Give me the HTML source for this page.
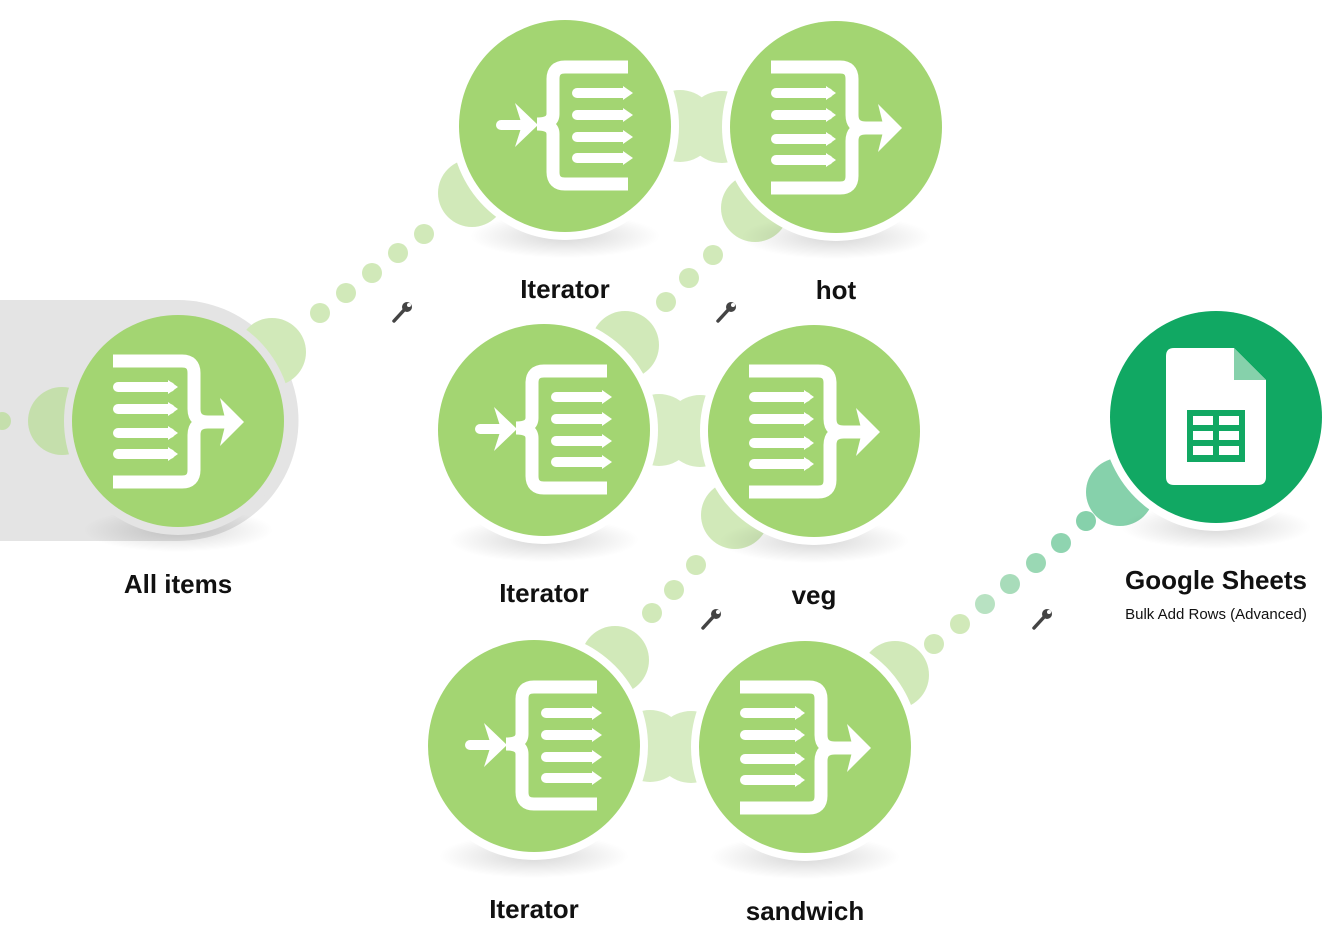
<!DOCTYPE html>
<html><head><meta charset="utf-8"><style>
html,body{margin:0;padding:0;background:#fff;width:1324px;height:950px;overflow:hidden}
svg{display:block}
text{font-family:"Liberation Sans",sans-serif;font-weight:bold;fill:#111;text-anchor:middle}
</style></head><body>
<svg width="1324" height="950" viewBox="0 0 1324 950" xmlns="http://www.w3.org/2000/svg">
<defs>
<radialGradient id="sh" cx="50%" cy="50%" r="50%">
<stop offset="0" stop-color="#000" stop-opacity="0.16"/><stop offset="1" stop-color="#000" stop-opacity="0"/>
</radialGradient>
<g id="agg" fill="none" stroke="#fff">
<path d="M-65 -60 H4 Q16 -60 16 -48 V-12 Q16 1 30 1 H52 M-65 61 H4 Q16 61 16 49 V14 Q16 1 30 1" stroke-width="13"/>
<path d="M-60 -34 H-8 M-60 -12 H-8 M-60 12 H-8 M-60 33 H-8" stroke-width="10" stroke-linecap="round"/>
<path d="M-10 -41 L0 -34 L-10 -27 Z M-10 -19 L0 -12 L-10 -5 Z M-10 5 L0 12 L-10 19 Z M-10 26 L0 33 L-10 40 Z" fill="#fff" stroke="none"/>
<path d="M42 -23 L66 1 L42 25 L48 1 Z" fill="#fff" stroke="none"/>
</g>
<g id="itr" fill="none" stroke="#fff">
<path d="M63 -59 H0 Q-12 -59 -12 -47 V-12 Q-12 -2 -28 -2 Q-12 -2 -12 8 V46 Q-12 58 0 58 H63" stroke-width="13"/>
<path d="M12 -33 H58 M12 -11 H58 M12 11 H58 M12 32 H58 M-64 -1 H-42" stroke-width="10" stroke-linecap="round"/>
<path d="M58 -40 L68 -33 L58 -26 Z M58 -18 L68 -11 L58 -4 Z M58 4 L68 11 L58 18 Z M58 25 L68 32 L58 39 Z M-50 -23 L-27 -1 L-50 21 L-43 -1 Z" fill="#fff" stroke="none"/>
</g>
</defs>
<path d="M0 300 H178 A120 120 0 0 1 178 541 H0 Z" fill="#e4e4e4"/>
<g fill="#d1e9b9">
<circle cx="2" cy="421" r="9" fill="#c5dfac"/>
<circle cx="320" cy="313" r="10"/><circle cx="346" cy="293" r="10"/><circle cx="372" cy="273" r="10"/><circle cx="398" cy="253" r="10"/><circle cx="424" cy="234" r="10"/>
<circle cx="713" cy="255" r="10"/><circle cx="689" cy="278" r="10"/><circle cx="666" cy="302" r="10"/>
<circle cx="696" cy="565" r="10"/><circle cx="674" cy="590" r="10"/><circle cx="652" cy="613" r="10"/>
<circle cx="934" cy="644" r="10"/><circle cx="960" cy="624" r="10"/><circle cx="985" cy="604" r="10" fill="#b8e2c2"/><circle cx="1010" cy="584" r="10" fill="#a8dcba"/><circle cx="1036" cy="563" r="10" fill="#9ad8b4"/><circle cx="1061" cy="543" r="10" fill="#8fd4b0"/><circle cx="1086" cy="521" r="10" fill="#86d1ab"/>
</g>
<g fill="#d1e9b9">
<circle cx="62" cy="421" r="34" fill="#c5dfac"/>
<circle cx="272" cy="352" r="34"/>
<circle cx="472" cy="193" r="34"/>
<circle cx="755" cy="208" r="34"/>
<circle cx="625" cy="345" r="34"/>
<circle cx="735" cy="515" r="34"/>
<circle cx="615" cy="660" r="34"/>
<circle cx="895" cy="675" r="34"/>
<circle cx="1120" cy="492" r="34" fill="#86d1ab"/>
<g opacity="0.85">
<circle cx="680" cy="126" r="36"/><circle cx="722" cy="127" r="36"/>
<circle cx="659" cy="430" r="36"/><circle cx="700" cy="431" r="36"/>
<circle cx="650" cy="746" r="36"/><circle cx="691" cy="747" r="36"/>
</g>
</g>
<g fill="url(#sh)">
<ellipse cx="178" cy="530" rx="95" ry="22"/>
<ellipse cx="565" cy="236" rx="95" ry="22"/><ellipse cx="836" cy="237" rx="95" ry="22"/>
<ellipse cx="544" cy="540" rx="95" ry="22"/><ellipse cx="814" cy="541" rx="95" ry="22"/>
<ellipse cx="534" cy="856" rx="95" ry="22"/><ellipse cx="805" cy="857" rx="95" ry="22"/>
<ellipse cx="1216" cy="527" rx="95" ry="22"/>
</g>
<g fill="#fff">
<circle cx="178" cy="421" r="114" fill="#e4e4e4"/>
<circle cx="565" cy="126" r="114"/><circle cx="836" cy="127" r="114"/>
<circle cx="544" cy="430" r="114"/><circle cx="814" cy="431" r="114"/>
<circle cx="534" cy="746" r="114"/><circle cx="805" cy="747" r="114"/>
<circle cx="1216" cy="417" r="114"/>
</g>
<g fill="#a3d572">
<circle cx="178" cy="421" r="106"/>
<circle cx="565" cy="126" r="106"/><circle cx="836" cy="127" r="106"/>
<circle cx="544" cy="430" r="106"/><circle cx="814" cy="431" r="106"/>
<circle cx="534" cy="746" r="106"/><circle cx="805" cy="747" r="106"/>
<circle cx="1216" cy="417" r="106" fill="#11a863"/>
</g>
<use href="#agg" x="178" y="421"/>
<use href="#itr" x="565" y="126"/><use href="#agg" x="836" y="127"/>
<use href="#itr" x="544" y="430"/><use href="#agg" x="814" y="431"/>
<use href="#itr" x="534" y="746"/><use href="#agg" x="805" y="747"/>
<path d="M1174 348 H1234 L1266 380 V477 Q1266 485 1258 485 H1174 Q1166 485 1166 477 V356 Q1166 348 1174 348 Z" fill="#fff"/>
<path d="M1234 348 L1266 380 H1234 Z" fill="#86d1ab"/>
<rect x="1187" y="410" width="58" height="52" fill="#11a863"/>
<g fill="#fff">
<rect x="1193" y="416" width="20" height="9"/><rect x="1219" y="416" width="20" height="9"/>
<rect x="1193" y="431" width="20" height="9"/><rect x="1219" y="431" width="20" height="9"/>
<rect x="1193" y="446" width="20" height="9"/><rect x="1219" y="446" width="20" height="9"/>
</g>
<g fill="none" stroke="#444" stroke-width="3.5" stroke-linecap="round">
<path d="M394 321 L405 309 M718 321 L729 309 M703 628 L714 616 M1034 628 L1045 616"/>
</g>
<g fill="#444">
<circle cx="407" cy="307" r="5"/><circle cx="731" cy="307" r="5"/><circle cx="716" cy="614" r="5"/><circle cx="1047" cy="614" r="5"/>
</g>
<g fill="#fff"><circle cx="409" cy="305" r="2"/><circle cx="733" cy="305" r="2"/><circle cx="718" cy="612" r="2"/><circle cx="1049" cy="612" r="2"/></g>
<g font-size="26">
<text x="178" y="593">All items</text>
<text x="565" y="298">Iterator</text>
<text x="836" y="299">hot</text>
<text x="544" y="602">Iterator</text>
<text x="814" y="604">veg</text>
<text x="534" y="918">Iterator</text>
<text x="805" y="920">sandwich</text>
<text x="1216" y="589">Google Sheets</text>
</g>
<text x="1216" y="619" font-size="15" style="font-weight:normal" fill="#333">Bulk Add Rows (Advanced)</text>
</svg>
</body></html>
